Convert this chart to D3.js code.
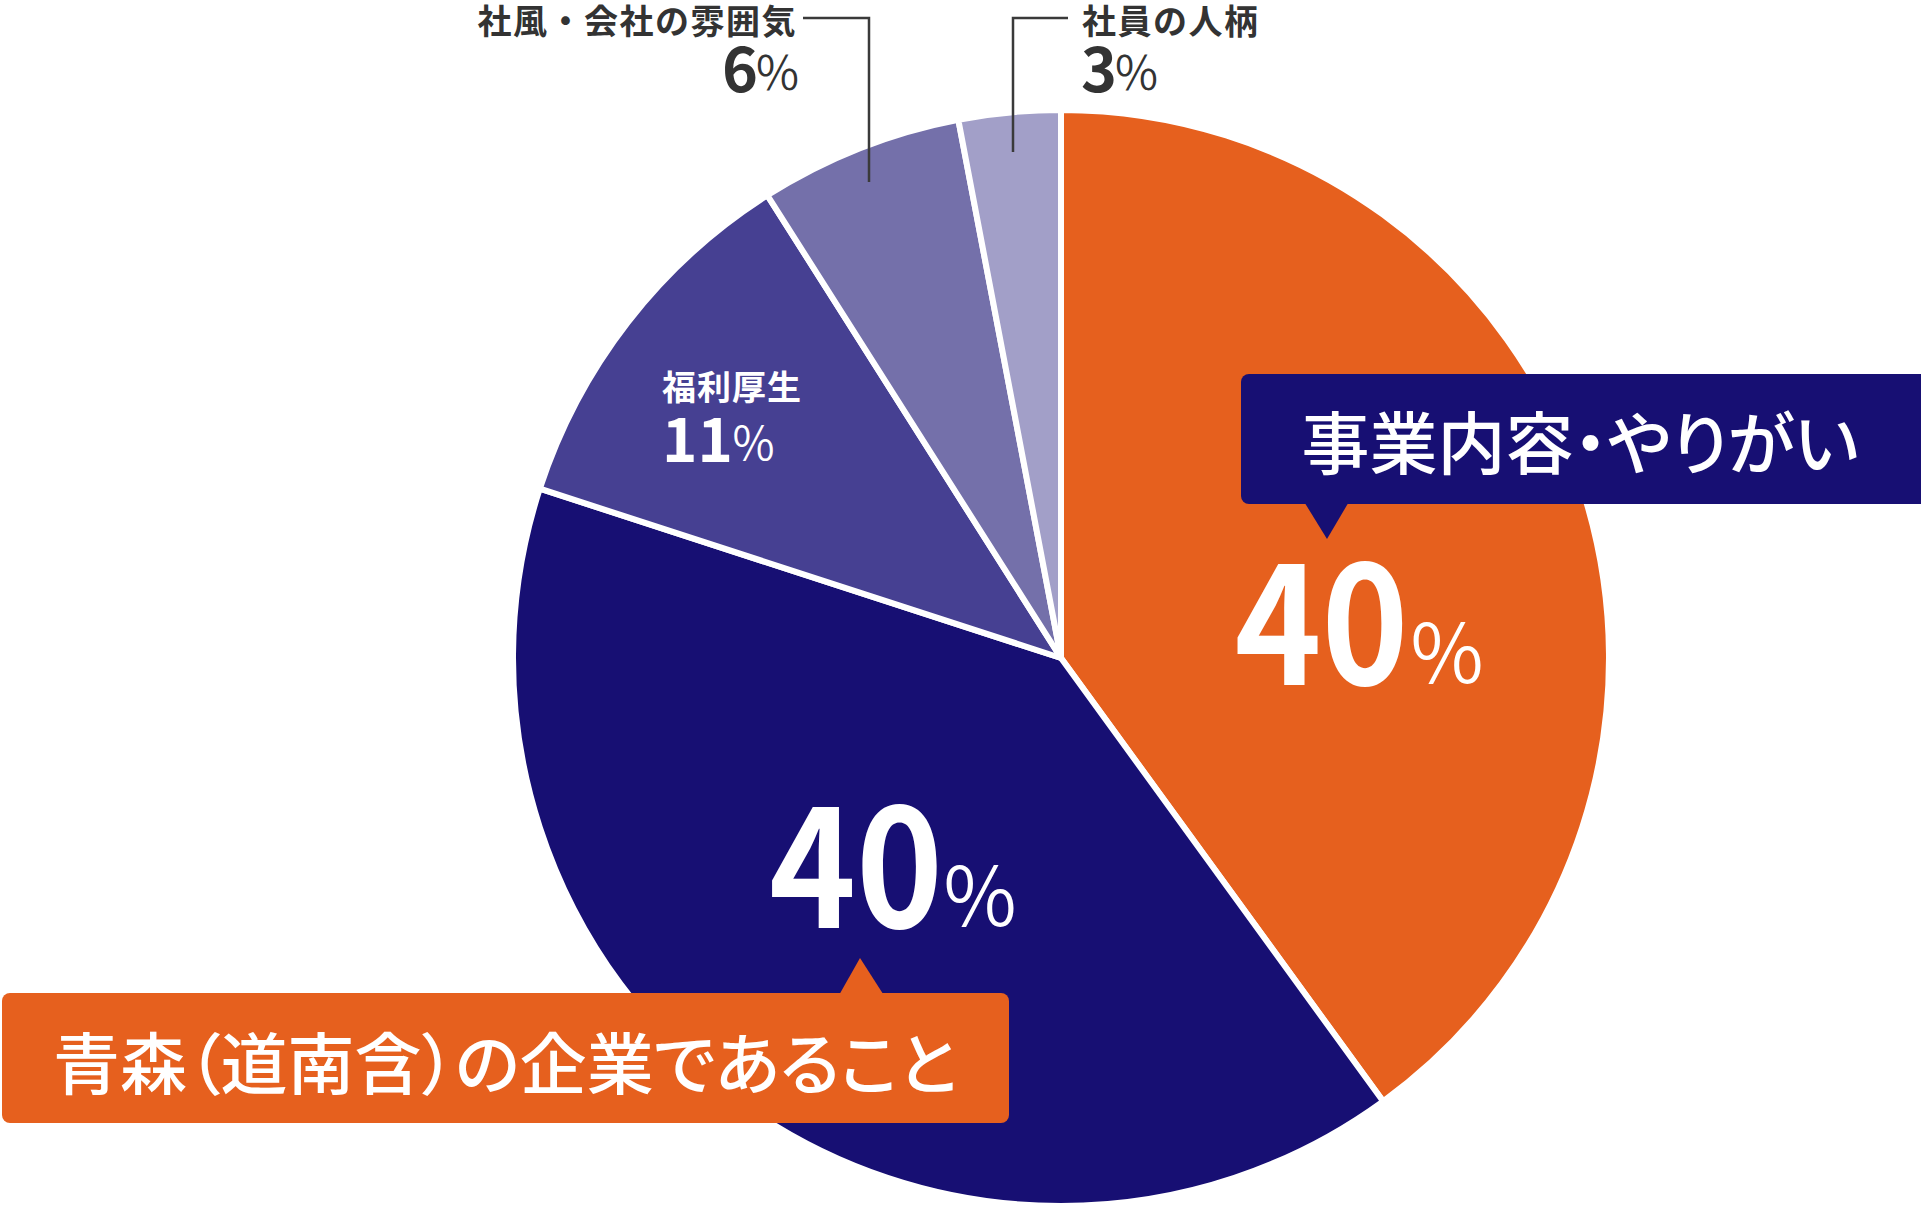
<!DOCTYPE html>
<html lang="ja">
<head>
<meta charset="utf-8">
<script src="https://cdn.jsdelivr.net/npm/d3@7"></script>
<style>
  html, body { margin: 0; padding: 0; background: #fff; }
  svg { display: block; }
  text { font-family: "Noto Sans CJK JP", "Noto Sans", sans-serif; }
</style>
</head>
<body>
<svg id="chart" width="1921" height="1212"></svg>
<script>
// ---- data ----
const categories = ["事業内容・やりがい", "青森（道南含）の企業であること", "福利厚生", "社風・会社の雰囲気", "社員の人柄"];
const values = [40, 40, 11, 6, 3];
const valueLabels = ["40", "40", "11", "6", "3"];
const colors = ["#E6601E", "#170F73", "#464092", "#7470AA", "#A29FC8"];

// ---- layout ----
const W = 1921, H = 1212;
const cx = 1061, cy = 658, R = 548;
const svg = d3.select("#chart");

const pie = d3.pie().sort(null).value(d => d.value).startAngle(0).endAngle(2 * Math.PI);
const arc = d3.arc().innerRadius(0).outerRadius(R);
const data = categories.map((c, i) => ({ name: c, value: values[i], label: valueLabels[i], color: colors[i] }));
const arcs = pie(data);

const g = svg.append("g").attr("transform", `translate(${cx},${cy})`);
g.selectAll("path").data(arcs).join("path")
  .attr("d", arc)
  .attr("fill", d => d.data.color)
  .attr("stroke", "#fff")
  .attr("stroke-width", 6)
  .attr("stroke-linejoin", "round");

// ---- leader lines for small slices ----
const lineColor = "#3a3a3a";
svg.append("path").attr("d", "M803,18H869V182").attr("fill", "none").attr("stroke", lineColor).attr("stroke-width", 2.5);
svg.append("path").attr("d", "M1068,18H1013V152").attr("fill", "none").attr("stroke", lineColor).attr("stroke-width", 2.5);

// helper for value + percent labels
function valueLabel(d, o) {
  svg.append("text")
    .attr("x", o.nx).attr("y", o.by)
    .attr("text-anchor", "middle")
    .attr("font-size", o.nsize).attr("font-weight", 700)
    .attr("fill", o.color)
    .attr("transform", o.sx ? `translate(${o.nx},0) scale(${o.sx},1) translate(${-o.nx},0)` : null)
    .text(d.data.label);
  svg.append("text")
    .attr("x", o.px).attr("y", o.pby)
    .attr("text-anchor", "middle")
    .attr("font-size", o.psize).attr("font-weight", 350)
    .attr("fill", o.color)
    .text("％");
}

// 事業内容・やりがい (orange slice)
valueLabel(arcs[0], { nx: 1321.5, by: 685, nsize: 164, sx: 0.9, px: 1447, pby: 683, psize: 80, color: "#fff" });
// 青森 (navy slice)
valueLabel(arcs[1], { nx: 856, by: 928, nsize: 164, sx: 0.9, px: 980, pby: 926, psize: 80, color: "#fff" });
// 福利厚生
svg.append("text").attr("x", 662).attr("y", 385).attr("dominant-baseline", "central")
  .attr("font-size", 34).attr("font-weight", 700).attr("fill", "#fff").attr("letter-spacing", 1)
  .text(arcs[2].data.name);
valueLabel(arcs[2], { nx: 697.5, by: 462, nsize: 60, px: 753.5, pby: 460, psize: 46, color: "#fff" });
// 社風・会社の雰囲気
svg.append("text").attr("x", 797).attr("y", 19).attr("dominant-baseline", "central")
  .attr("text-anchor", "end")
  .attr("font-size", 34).attr("font-weight", 700).attr("fill", "#333").attr("letter-spacing", 1.5)
  .text(arcs[3].data.name);
valueLabel(arcs[3], { nx: 740, by: 92, nsize: 61, px: 777.5, pby: 90, psize: 47, color: "#333" });
// 社員の人柄
svg.append("text").attr("x", 1082).attr("y", 19).attr("dominant-baseline", "central")
  .attr("font-size", 34).attr("font-weight", 700).attr("fill", "#333").attr("letter-spacing", 1.5)
  .text(arcs[4].data.name);
valueLabel(arcs[4], { nx: 1099, by: 92, nsize: 61, px: 1136.5, pby: 90, psize: 47, color: "#333" });

// ---- callout boxes ----
function callout(o) {
  const gg = svg.append("g");
  gg.append("rect").attr("x", o.x).attr("y", o.y).attr("width", o.w).attr("height", o.h)
    .attr("rx", 8).attr("fill", o.fill);
  gg.append("path").attr("d", `M${o.t[0][0]},${o.t[0][1]}L${o.t[1][0]},${o.t[1][1]}L${o.t[2][0]},${o.t[2][1]}Z`)
    .attr("fill", o.fill);
  gg.append("text").attr("x", o.tx).attr("y", o.ty)
    .attr("text-anchor", "middle").attr("dominant-baseline", "central")
    .attr("font-size", o.fs).attr("font-weight", 500).attr("fill", "#fff")
    .style("font-feature-settings", "'palt' 1")
    .text(o.text);
}
callout({ x: 1241, y: 374, w: 690, h: 130, fill: colors[1], fs: 68,
  t: [[1303, 500], [1350, 500], [1327, 539]], tx: 1580, ty: 439, text: categories[0] });
callout({ x: 2, y: 993, w: 1007, h: 130, fill: colors[0], fs: 67,
  t: [[838, 997], [885, 997], [860, 958]], tx: 505, ty: 1059, text: categories[1] });
</script>
</body>
</html>
